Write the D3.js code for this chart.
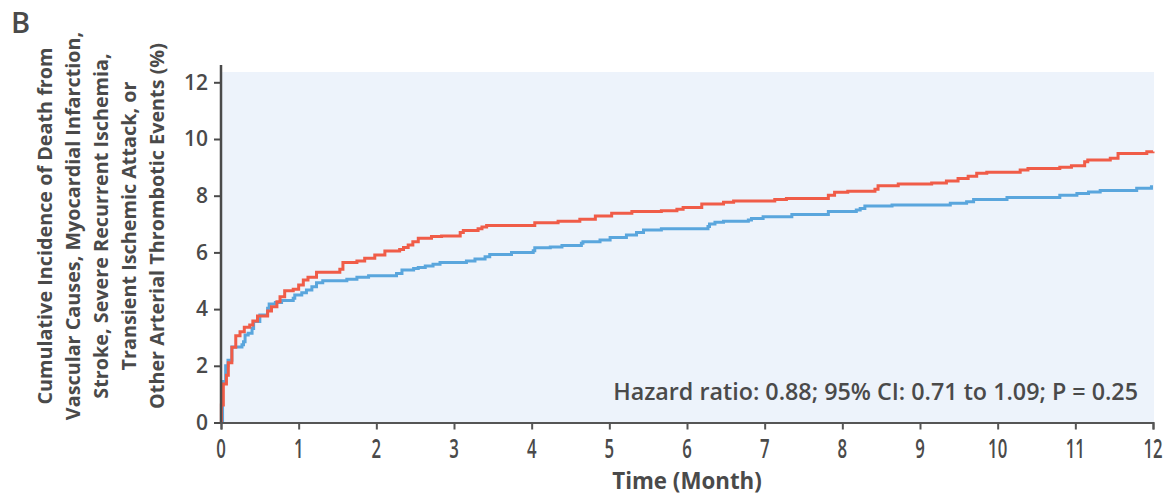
<!doctype html>
<html lang="en">
<head>
    <meta charset="UTF-8">
    <title>Cumulative incidence</title>
    <style>
        html, body { margin: 0; padding: 0; background: #fff; }
        svg { display: block; }
        text { font-family: "Open Sans", "Noto Sans", sans-serif; fill: #4a4a4a; }
    </style>
</head>
<body>
<svg id="chart" width="1173" height="498"></svg>

<script src="https://cdn.jsdelivr.net/npm/d3@7"></script>
<script>
  // red group (step points: month, cumulative %)
  const redMonths = [0, 0.005, 0.03, 0.07, 0.094, 0.14, 0.19, 0.245, 0.30, 0.37, 0.41, 0.47, 0.6, 0.65, 0.72, 0.76, 0.82, 0.93, 1.0, 1.06, 1.12, 1.23, 1.53, 1.57, 1.75, 1.85, 1.98, 2.11, 2.3, 2.35, 2.41, 2.47, 2.54, 2.71, 2.84, 3.08, 3.12, 3.31, 3.36, 3.42, 4.04, 4.34, 4.62, 4.82, 5.03, 5.29, 5.67, 5.87, 5.95, 6.19, 6.47, 6.6, 7.13, 7.28, 7.82, 7.9, 8.07, 8.42, 8.46, 8.72, 9.15, 9.34, 9.49, 9.62, 9.73, 9.86, 10.29, 10.39, 10.8, 10.95, 11.12, 11.16, 11.45, 11.55, 11.92, 12]
  const redPct = [0, 0.62, 1.36, 1.67, 2.11, 2.65, 3.06, 3.2, 3.36, 3.44, 3.58, 3.76, 3.93, 4.08, 4.26, 4.44, 4.65, 4.7, 4.85, 5.03, 5.12, 5.3, 5.41, 5.64, 5.7, 5.79, 5.91, 6.05, 6.1, 6.17, 6.26, 6.38, 6.5, 6.56, 6.58, 6.7, 6.77, 6.83, 6.9, 6.95, 7.05, 7.1, 7.17, 7.28, 7.38, 7.44, 7.47, 7.52, 7.58, 7.71, 7.77, 7.81, 7.87, 7.9, 8.02, 8.12, 8.16, 8.23, 8.35, 8.41, 8.45, 8.52, 8.61, 8.69, 8.79, 8.83, 8.91, 8.96, 9.0, 9.06, 9.2, 9.26, 9.32, 9.49, 9.55, 9.56]

  // blue group
  const blueMonths = [0, 0.02, 0.06, 0.09, 0.14, 0.27, 0.29, 0.31, 0.35, 0.4, 0.42, 0.5, 0.6, 0.62, 0.7, 0.78, 0.93, 0.95, 1.04, 1.1, 1.17, 1.23, 1.31, 1.62, 1.75, 1.9, 2.26, 2.33, 2.48, 2.54, 2.63, 2.73, 2.82, 3.16, 3.27, 3.4, 3.46, 3.74, 4.02, 4.04, 4.24, 4.39, 4.64, 4.66, 4.88, 5.01, 5.22, 5.35, 5.44, 5.67, 6.27, 6.29, 6.36, 6.47, 6.79, 6.83, 6.98, 7.35, 7.82, 8.18, 8.23, 8.29, 8.64, 9.39, 9.6, 9.69, 10.12, 10.8, 11.02, 11.17, 11.32, 11.79, 11.98, 12]
  const bluePct = [0, 1.45, 2.0, 2.2, 2.66, 2.74, 2.85, 3.09, 3.15, 3.32, 3.56, 3.79, 4.03, 4.18, 4.23, 4.3, 4.38, 4.5, 4.58, 4.67, 4.79, 4.93, 5.0, 5.05, 5.12, 5.18, 5.26, 5.38, 5.43, 5.47, 5.52, 5.58, 5.64, 5.7, 5.77, 5.85, 5.93, 6.0, 6.06, 6.16, 6.19, 6.24, 6.32, 6.38, 6.44, 6.53, 6.61, 6.7, 6.79, 6.83, 6.91, 7.0, 7.06, 7.1, 7.14, 7.2, 7.26, 7.34, 7.44, 7.5, 7.55, 7.64, 7.67, 7.73, 7.79, 7.87, 7.94, 8.02, 8.08, 8.13, 8.18, 8.26, 8.32, 8.32]

  const xTicks = [0, 1, 2, 3, 4, 5, 6, 7, 8, 9, 10, 11, 12]
  const yTicks = [0, 2, 4, 6, 8, 10, 12]
  const yLabelLines = [
    'Cumulative Incidence of Death from',
    'Vascular Causes, Myocardial Infarction,',
    'Stroke, Severe Recurrent Ischemia,',
    'Transient Ischemic Attack, or',
    'Other Arterial Thrombotic Events (%)'
  ]
  const hazardText = 'Hazard ratio: 0.88; 95% CI: 0.71 to 1.09; P = 0.25'

  const svg = d3.select('#chart')

  const x = d3.scaleLinear().domain([0, 12]).range([221, 1153])
  const y = d3.scaleLinear().domain([0, 12]).range([422.5, 82.3])

  // panel background
  svg.append('rect')
    .attr('x', x(0)).attr('y', 72)
    .attr('width', x(12) - x(0) + 1).attr('height', y(0) - 72)
    .attr('fill', '#edf3fb')

  // curves
  const line = d3.line()
    .x(d => x(d[0]))
    .y(d => y(d[1]))
    .curve(d3.curveStepAfter)

  const blue = blueMonths.map((m, i) => [m, bluePct[i]])
  const red = redMonths.map((m, i) => [m, redPct[i]])

  svg.append('path')
    .attr('d', line(blue))
    .attr('fill', 'none')
    .attr('stroke', '#5aa6dd')
    .attr('stroke-width', 3)

  svg.append('path')
    .attr('d', line(red))
    .attr('fill', 'none')
    .attr('stroke', '#f05c48')
    .attr('stroke-width', 3)

  // y axis
  const yAxis = svg.append('g')
    .attr('transform', `translate(${x(0)},0)`)
    .call(d3.axisLeft(y).tickValues(yTicks).tickSize(7).tickPadding(6))
  yAxis.select('.domain').remove()
  yAxis.selectAll('.tick line').attr('stroke', '#4a4a4a').attr('stroke-width', 2)
  yAxis.selectAll('.tick text')
    .style('font-family', '"Open Sans", sans-serif')
    .style('font-size', '21px')
    .style('font-weight', 600)
    .attr('fill', '#4a4a4a')
  svg.append('line')
    .attr('x1', x(0)).attr('x2', x(0))
    .attr('y1', 65).attr('y2', y(0) + 1)
    .attr('stroke', '#4a4a4a').attr('stroke-width', 2.5)

  // x axis
  const xAxis = svg.append('g')
    .attr('transform', `translate(0,${y(0)})`)
    .call(d3.axisBottom(x).tickValues(xTicks).tickSize(7).tickFormat(''))
  xAxis.select('.domain').attr('stroke', '#555').attr('stroke-width', 2)
  xAxis.selectAll('.tick line').attr('stroke', '#555').attr('stroke-width', 2)

  svg.append('g').selectAll('text')
    .data(xTicks)
    .join('text')
    .attr('transform', d => `translate(${x(d)},458) scale(0.62,1)`)
    .attr('text-anchor', 'middle')
    .style('font-size', '27px')
    .style('font-weight', 600)
    .text(d => d)

  svg.append('text')
    .attr('transform', `translate(${x(6)},489) scale(0.93,1)`)
    .attr('text-anchor', 'middle')
    .style('font-size', '24px')
    .style('font-weight', 700)
    .text('Time (Month)')

  // y label
  svg.append('g').selectAll('text')
    .data(yLabelLines)
    .join('text')
    .attr('transform', (d, i) => `translate(${45 + i * 28},226) rotate(-90)`)
    .attr('text-anchor', 'middle')
    .attr('dy', '0.36em')
    .style('font-size', '19.8px')
    .style('font-weight', 700)
    .text(d => d)

  // panel letter
  svg.append('text')
    .attr('x', 11).attr('y', 33)
    .style('font-size', '29px')
    .style('font-weight', 600)
    .text('B')

  // hazard ratio note
  svg.append('text')
    .attr('x', 1138).attr('y', 400)
    .attr('text-anchor', 'end')
    .style('font-size', '23.3px')
    .style('font-weight', 600)
    .attr('fill', '#505050')
    .text(hazardText)
</script>
</body>
</html>
